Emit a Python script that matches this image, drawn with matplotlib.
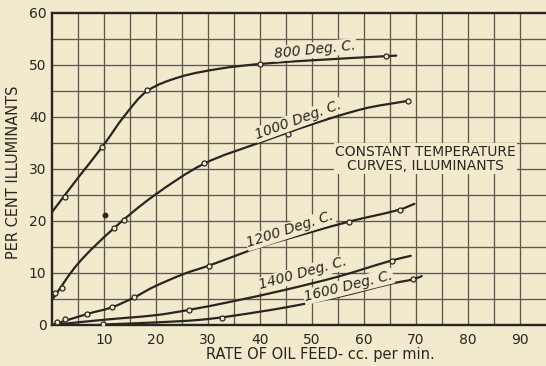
import matplotlib
matplotlib.use("Agg")
import matplotlib.pyplot as plt
from matplotlib.path import Path
from matplotlib.patches import PathPatch
import numpy as np

# ---- data ----
# curve traces (x = rate of oil feed, y = per cent illuminants)
x800 = [0, 5, 9.7, 14, 18.3, 24.6, 32.3, 40, 50, 64.2, 66.2]
y800 = [21.7, 28.3, 34.3, 40.3, 45.0, 47.7, 49.3, 50.2, 50.9, 51.7, 51.8]

x1000 = [0, 5, 11.9, 19.5, 29.2, 40, 50, 60, 68.4]
y1000 = [4.8, 11.8, 18.6, 24.8, 31.0, 35.1, 38.6, 41.6, 43.1]

x1200 = [0, 6.7, 11.5, 15.8, 19.5, 25.3, 30.1, 40, 49.6, 57.2, 66.9, 69.7]
y1200 = [0, 2.1, 3.4, 5.3, 7.3, 9.8, 11.4, 15.0, 17.8, 19.9, 22.2, 23.3]

x1400 = [0, 9.9, 20, 26.3, 35, 45, 55, 65.3, 69]
y1400 = [0, 1.0, 1.9, 2.9, 4.6, 6.8, 9.3, 12.4, 13.3]

x1600 = [9.9, 20, 28.5, 35, 45, 55, 65, 69.5, 71.1]
y1600 = [0.1, 0.5, 1.0, 1.8, 3.4, 5.4, 7.9, 8.8, 9.4]

# observed points (open circles)
px800 = [2.5, 9.7, 18.3, 40, 64.2]
py800 = [24.7, 34.3, 45.2, 50.2, 51.7]
px1000 = [0.6, 1.9, 11.9, 13.9, 29.2, 45.3, 68.4]
py1000 = [6.1, 7.2, 18.6, 20.2, 31.1, 36.7, 43.1]
px1200 = [0.9, 2.5, 6.7, 11.5, 15.8, 30.1, 57.2, 66.9]
py1200 = [0.6, 1.1, 2.1, 3.4, 5.3, 11.4, 19.9, 22.2]
px1400 = [26.3, 65.3]
py1400 = [2.9, 12.4]
px1600 = [9.9, 32.6, 69.5]
py1600 = [0.1, 1.4, 8.8]
# stray filled dot
dot_x = [10.2]
dot_y = [21.2]

curve_labels = ["800 Deg. C.", "1000 Deg. C.", "1200 Deg. C.", "1400 Deg. C.", "1600 Deg. C."]
label_x = [50.6, 47.3, 45.8, 48.3, 57.0]
label_y = [52.9, 39.4, 18.3, 9.9, 7.4]
label_rot = [6, 20, 18, 15.5, 14]

x_ticks = [10, 20, 30, 40, 50, 60, 70, 80, 90]
y_ticks = [0, 10, 20, 30, 40, 50, 60]

# ---- style ----
BG = "#f1eacd"
INK = "#2a2521"
GRID = "#5e5851"


def smooth_path(xs, ys):
    """Bezier path passing through the given nodes (chord-length Hermite tangents)."""
    P = np.column_stack([xs, ys]).astype(float)
    d = np.hypot(*np.diff(P, axis=0).T)
    t = np.concatenate([[0], np.cumsum(d)])
    n = len(P)
    m = np.zeros_like(P)
    m[0] = (P[1] - P[0]) / (t[1] - t[0])
    m[-1] = (P[-1] - P[-2]) / (t[-1] - t[-2])
    for i in range(1, n - 1):
        m[i] = (P[i + 1] - P[i - 1]) / (t[i + 1] - t[i - 1])
    verts = [P[0]]
    codes = [Path.MOVETO]
    for i in range(n - 1):
        h = t[i + 1] - t[i]
        verts += [P[i] + m[i] * h / 3, P[i + 1] - m[i + 1] * h / 3, P[i + 1]]
        codes += [Path.CURVE4] * 3
    return Path(verts, codes)


fig = plt.figure(figsize=(5.46, 3.66), dpi=100, facecolor=BG)
ax = fig.add_axes([52 / 546, 41 / 366, 494 / 546, 312 / 366])
ax.set_facecolor(BG)
ax.set_xlim(0, 95)
ax.set_ylim(0, 60)

# grid every 5 units
for gx in np.arange(5, 95, 5):
    ax.axvline(gx, color=GRID, lw=0.95, zorder=1)
for gy in np.arange(5, 60, 5):
    ax.axhline(gy, color=GRID, lw=0.95, zorder=1)

for s in ["left", "bottom", "top"]:
    ax.spines[s].set_color(INK)
    ax.spines[s].set_linewidth(1.7)
ax.spines["right"].set_visible(False)

series = [(x800, y800, px800, py800), (x1000, y1000, px1000, py1000),
          (x1200, y1200, px1200, py1200), (x1400, y1400, px1400, py1400),
          (x1600, y1600, px1600, py1600)]
for cx, cy, mx, my in series:
    ax.add_patch(PathPatch(smooth_path(cx, cy), fill=False, edgecolor=INK, lw=1.6,
                           capstyle="round", joinstyle="round", zorder=3))
    ax.plot(mx, my, ls="none", marker="o", ms=3.6, mfc=BG, mec=INK, mew=0.9, zorder=4)
ax.plot(dot_x, dot_y, ls="none", marker="o", ms=3.2, mfc=INK, mec=INK, zorder=4)

for t, lx, ly, r in zip(curve_labels, label_x, label_y, label_rot):
    ax.text(lx, ly, t, rotation=r, rotation_mode="anchor", ha="center", va="center",
            fontsize=10, style="italic", color=INK, family="DejaVu Sans", zorder=5,
            bbox=dict(facecolor=BG, edgecolor="none", pad=0.6))

ax.text(71.8, 32.0, "CONSTANT TEMPERATURE\nCURVES, ILLUMINANTS", ha="center", va="center",
        fontsize=10, color=INK, family="DejaVu Sans", linespacing=1.0, zorder=5,
        bbox=dict(facecolor=BG, edgecolor="none", pad=1.0))

ax.set_xticks(x_ticks)
ax.set_yticks(y_ticks)
ax.set_xticklabels([str(v) for v in x_ticks])
ax.set_yticklabels([str(v) for v in y_ticks])
ax.tick_params(axis="both", length=0, colors=INK, labelsize=10)
ax.tick_params(axis="x", pad=6)
ax.tick_params(axis="y", pad=4)

fig.text(14 / 546, 1 - 172 / 366, "PER CENT ILLUMINANTS", rotation=90, ha="center", va="center",
         fontsize=10.5, color=INK, family="DejaVu Sans")
fig.text(320 / 546, 1 - 354 / 366, "RATE OF OIL FEED- cc. per min.", ha="center", va="center",
         fontsize=10.5, color=INK, family="DejaVu Sans")

fig.savefig("out.png", dpi=100, facecolor=BG)
